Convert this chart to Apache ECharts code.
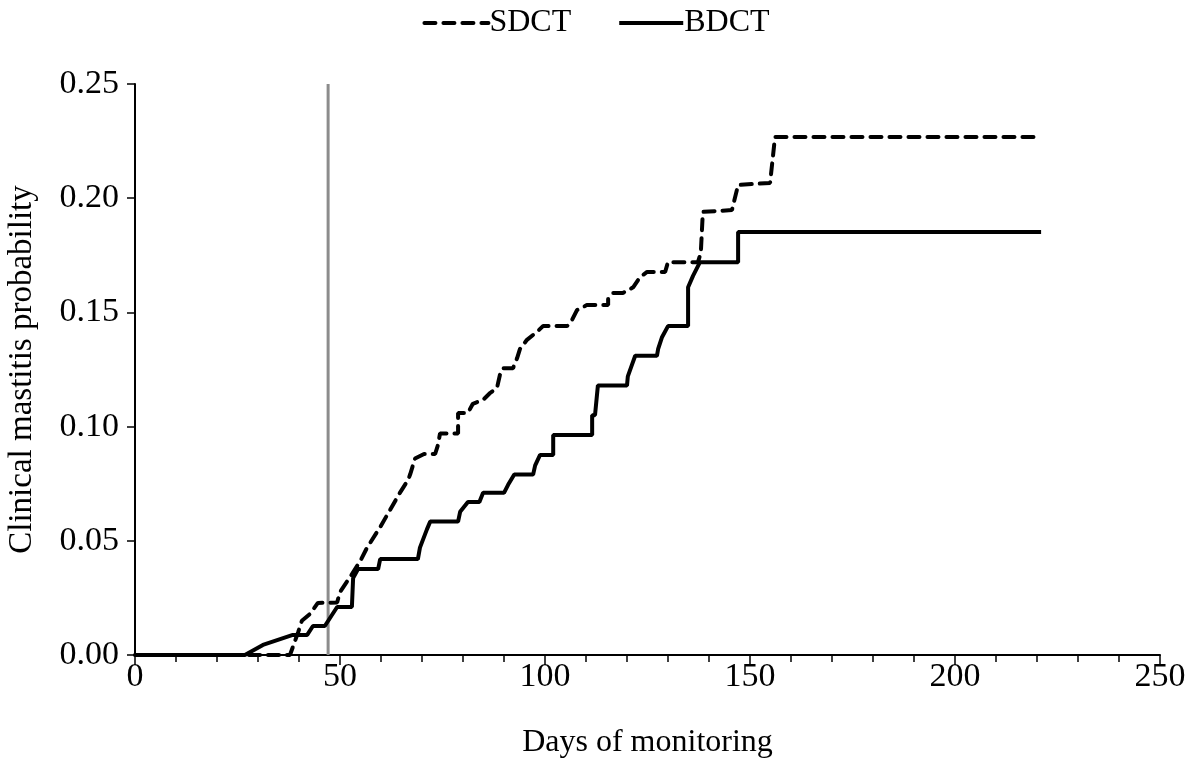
<!DOCTYPE html>
<html>
<head>
<meta charset="utf-8">
<script src="https://cdn.jsdelivr.net/npm/echarts@6/dist/echarts.min.js"></script>
<style>
  html, body { margin: 0; padding: 0; background: #fff; }
  #chart { width: 1192px; height: 758px; }
</style>
</head>
<body>
<div id="chart"></div>
<script>
// 数据 - 累计临床乳房炎概率
const sdctDays = [0, 37.8, 39.8, 40.7, 42.7, 44.6, 49.3, 50, 52.4, 54.9, 56.6, 59.8, 62.2, 64.6, 66.6, 67.1, 68.3, 70.5, 73.2, 73.9, 74.4, 78.8, 78.8, 81.2, 82.4, 84.9, 86.6, 88.3, 89, 89.8, 92.2, 93.2, 93.9, 95.6, 98, 99.5, 105.4, 106.6, 107.8, 110.2, 115.4, 115.4, 116.6, 119, 121.5, 123.2, 124.9, 129.3, 130, 137.3, 138, 138.5, 145.6, 147.1, 154.9, 156.1, 221];
const sdctProb = [0, 0, 0.010, 0.015, 0.018, 0.0228, 0.023, 0.0276, 0.034, 0.041, 0.047, 0.056, 0.0635, 0.071, 0.0766, 0.079, 0.086, 0.088, 0.088, 0.092, 0.097, 0.097, 0.106, 0.106, 0.110, 0.1117, 0.1147, 0.117, 0.1226, 0.1256, 0.1256, 0.130, 0.134, 0.138, 0.1414, 0.144, 0.144, 0.1467, 0.151, 0.1532, 0.1532, 0.156, 0.1585, 0.1585, 0.161, 0.1655, 0.1677, 0.1677, 0.172, 0.172, 0.176, 0.194, 0.1948, 0.2058, 0.2067, 0.2268, 0.2268];

const bdctDays = [0, 26.8, 31.2, 38.5, 42, 43.4, 46.3, 49.3, 52.9, 53.2, 54.4, 59.3, 59.8, 69, 69.5, 71.2, 72, 78.8, 79.3, 81.2, 84, 84.9, 90, 91, 92.5, 97.1, 97.6, 98.8, 102, 102, 111.5, 111.5, 112.2, 112.9, 120, 120.2, 121.2, 122, 127.3, 127.6, 128.5, 130, 134.9, 134.9, 136.1, 137.8, 147.1, 147.1, 221];
const bdctProb = [0, 0, 0.0044, 0.0088, 0.0088, 0.0127, 0.0127, 0.021, 0.021, 0.0337, 0.0376, 0.0376, 0.042, 0.042, 0.047, 0.055, 0.0584, 0.0584, 0.0627, 0.067, 0.067, 0.071, 0.071, 0.0745, 0.079, 0.079, 0.083, 0.0876, 0.0876, 0.0963, 0.0963, 0.105, 0.105, 0.118, 0.118, 0.122, 0.127, 0.131, 0.131, 0.134, 0.139, 0.144, 0.144, 0.161, 0.166, 0.172, 0.172, 0.1852, 0.1852];

const markerDay = 47.1;
const xTicks = [0, 50, 100, 150, 200, 250];
const yTicks = [0, 0.05, 0.10, 0.15, 0.20, 0.25];

const zip = (xs, ys) => xs.map((x, i) => [x, ys[i]]);

const font = '"Liberation Serif", "Times New Roman", serif';

const chart = echarts.init(document.getElementById('chart'));
chart.setOption({
    animation: false,
    textStyle: { fontFamily: font },
    legend: {
        top: 2,
        left: 'center',
        data: ['SDCT', 'BDCT'],
        itemWidth: 64,
        itemHeight: 14,
        itemGap: 46,
        itemStyle: { color: 'rgba(0,0,0,0)', borderWidth: 0, opacity: 0 },
        lineStyle: { width: 4 },
        textStyle: { fontFamily: font, fontSize: 32, color: '#000', padding: [0, 0, 0, -4] }
    },
    grid: {
        left: 135,
        right: 32,
        top: 84,
        bottom: 103,
        containLabel: false,
        outerBoundsMode: 'none'
    },
    xAxis: {
        type: 'value',
        min: xTicks[0],
        max: xTicks[xTicks.length - 1],
        interval: 50,
        name: 'Days of monitoring',
        nameLocation: 'middle',
        nameGap: 72,
        nameTextStyle: { fontFamily: font, fontSize: 32, color: '#000' },
        axisLine: { lineStyle: { color: '#000', width: 2 } },
        axisTick: { show: true, inside: false, length: 10, lineStyle: { color: '#000', width: 1.5 } },
        minorTick: { show: true, splitNumber: 5, length: 7, lineStyle: { color: '#000', width: 1.5 } },
        axisLabel: { fontFamily: font, fontSize: 34, color: '#000', margin: 5 },
        splitLine: { show: false }
    },
    yAxis: {
        type: 'value',
        min: yTicks[0],
        max: yTicks[yTicks.length - 1],
        interval: 0.05,
        name: 'Clinical mastitis probability',
        nameLocation: 'middle',
        nameGap: 96,
        nameTextStyle: { fontFamily: font, fontSize: 33, color: '#000' },
        axisLine: { show: true, lineStyle: { color: '#000', width: 2 } },
        axisTick: { show: true, inside: false, length: 8, lineStyle: { color: '#000', width: 1.5 } },
        axisLabel: {
            fontFamily: font,
            fontSize: 34,
            color: '#000',
            margin: 16,
            formatter: v => v.toFixed(2)
        },
        splitLine: { show: false }
    },
    series: [
        {
            name: 'marker',
            type: 'line',
            data: [[markerDay, yTicks[0]], [markerDay, yTicks[yTicks.length - 1]]],
            symbol: 'none',
            lineStyle: { color: '#8c8c8c', width: 3 },
            z: 1
        },
        {
            name: 'SDCT',
            type: 'line',
            data: zip(sdctDays, sdctProb),
            symbol: 'none',
            itemStyle: { color: '#000' },
            lineStyle: { color: '#000', width: 4, type: [11, 8], cap: 'round' },
            z: 3
        },
        {
            name: 'BDCT',
            type: 'line',
            data: zip(bdctDays, bdctProb),
            symbol: 'none',
            itemStyle: { color: '#000' },
            lineStyle: { color: '#000', width: 4 },
            z: 2
        }
    ]
});

window.addEventListener('resize', () => {
    chart.resize();
});
</script>
</body>
</html>
